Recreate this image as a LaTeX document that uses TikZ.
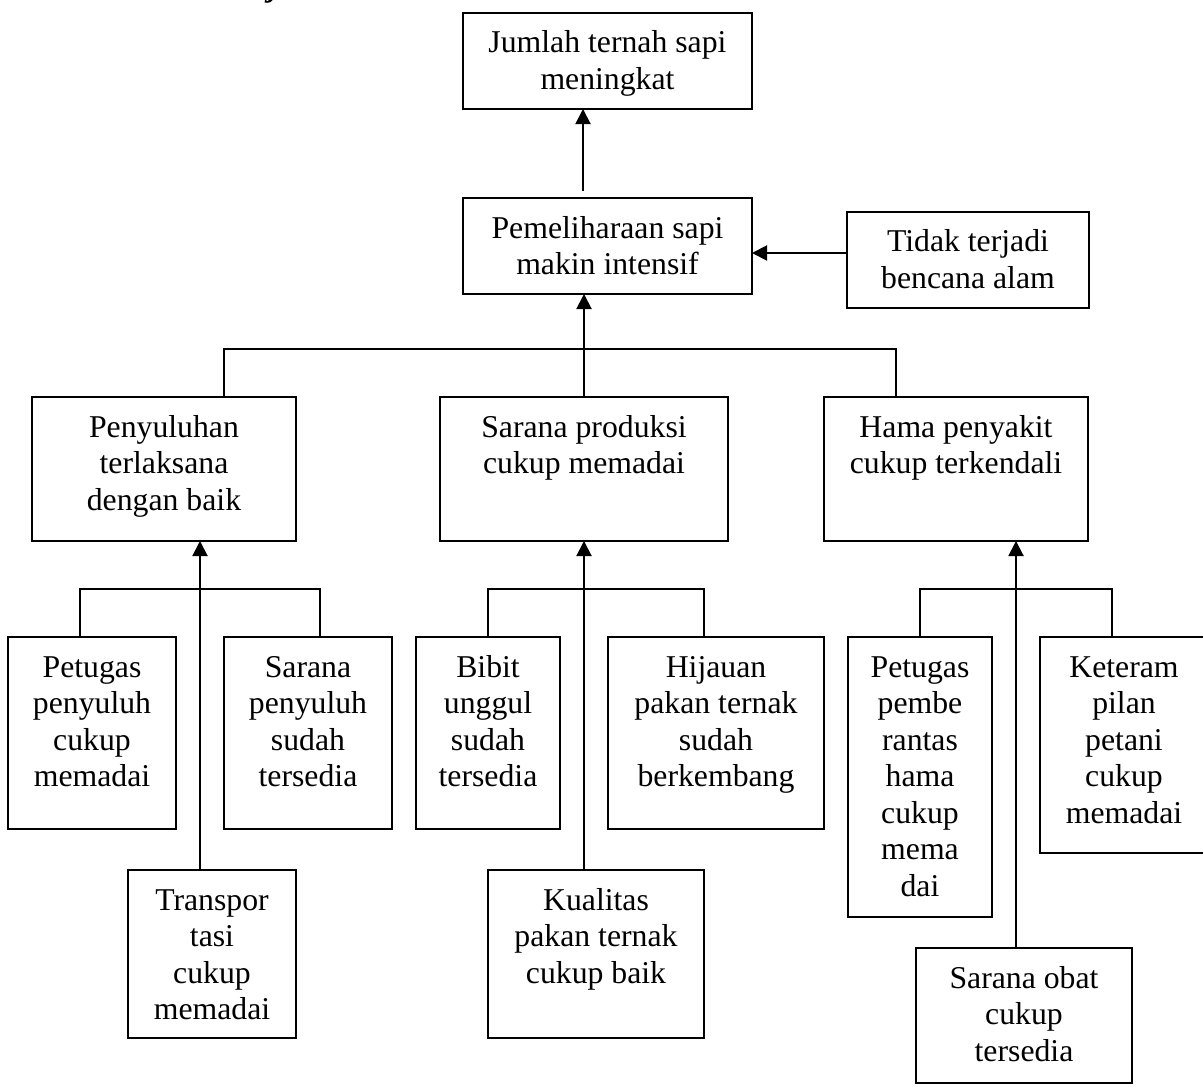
\documentclass[tikz,border=0pt]{standalone}
\usepackage{fontspec}
\setmainfont{Liberation Serif}
\usetikzlibrary{arrows.meta}

% one drawing unit (a pixel of the layout grid)
\newdimen\pxu \pxu=0.378pt
% box content: fixed width and height, text starting from the top
\newcommand\boxtext[3]{\parbox[c][#2\pxu][t]{#1\pxu}{\centering\rule{0pt}{40\pxu}#3\par}}

\begin{document}
\begin{tikzpicture}[
  x=0.378pt, y=-0.378pt, line width=0.75pt,
  box/.style={draw, inner sep=0pt, outer sep=0pt, anchor=north west,
              font=\fontsize{12pt}{13.8pt}\selectfont},
  arr/.style={-{Triangle[length=5.7pt,width=5.7pt]}}
]
\useasboundingbox (0,0) rectangle (1203,1086);
\clip (0,0) rectangle (1203,1086);

% heading fragment above the chart
\node[anchor=base west, inner sep=0pt, font=\fontsize{12pt}{14pt}\selectfont\bfseries\itshape] (head) at (268,-3) {j};

% goal and main result
\node[box] (goal) at (463,13)  {\boxtext{289}{96}{Jumlah ternah sapi\\meningkat}};
\node[box] (pem)  at (463,198) {\boxtext{289}{96}{Pemeliharaan sapi\\makin intensif}};
\node[box] (alam) at (847,212) {\boxtext{242}{96}{Tidak terjadi\\bencana alam}};

% second level
\node[box] (peny) at (32,397)  {\boxtext{264}{144}{Penyuluhan\\terlaksana\\dengan baik}};
\node[box] (prod) at (440,397) {\boxtext{288}{144}{Sarana produksi\\cukup memadai}};
\node[box] (hama) at (824,397) {\boxtext{264}{144}{Hama penyakit\\cukup terkendali}};

% third level: extension
\node[box] (petpeny) at (8,637)   {\boxtext{168}{192}{Petugas\\penyuluh\\cukup\\memadai}};
\node[box] (sarpeny) at (224,637) {\boxtext{168}{192}{Sarana\\penyuluh\\sudah\\tersedia}};
\node[box] (transp)  at (128,870) {\boxtext{168}{168}{Transpor\\tasi\\cukup\\memadai}};

% third level: production means
\node[box] (bibit) at (416,637) {\boxtext{144}{192}{Bibit\\unggul\\sudah\\tersedia}};
\node[box] (hijau) at (608,637) {\boxtext{216}{192}{Hijauan\\pakan ternak\\sudah\\berkembang}};
\node[box] (kual)  at (488,870) {\boxtext{216}{168}{Kualitas\\pakan ternak\\cukup baik}};

% third level: pest control
\node[box] (petpem) at (848,637)  {\boxtext{144}{280}{Petugas\\pembe\\rantas\\hama\\cukup\\mema\\dai}};
\node[box] (keter)  at (1040,637) {\boxtext{168}{216}{Keteram\\pilan\\petani\\cukup\\memadai}};
\node[box] (obat)   at (916,948)  {\boxtext{216}{135}{Sarana obat\\cukup\\tersedia}};

% joints of the connectors
\coordinate (up)  at (583,191);
\coordinate (jl)  at (224,349);
\coordinate (jr)  at (896,349);
\coordinate (ml)  at (584,349);
\coordinate (la)  at (80,589);
\coordinate (lc)  at (200,589);
\coordinate (lb)  at (320,589);
\coordinate (ma)  at (488,589);
\coordinate (mc)  at (584,589);
\coordinate (mb)  at (704,589);
\coordinate (ra)  at (920,589);
\coordinate (rc)  at (1016,589);
\coordinate (rb)  at (1112,589);

% upper arrows
\draw[arr] (up) -- (up |- goal.south);
\draw[arr] ([yshift=2.65pt]alam.west) -- ([yshift=2.65pt]alam.west -| pem.east);
\draw[arr] (prod.north -| ml) -- (pem.south -| ml);
\draw (peny.north -| jl) -- (jl) -- (jr) -- (hama.north -| jr);

% lower groups
\draw[arr] (transp.north -| lc) -- (peny.south -| lc);
\draw (petpeny.north -| la) -- (la) -- (lb) -- (sarpeny.north -| lb);

\draw[arr] (kual.north -| mc) -- (prod.south -| mc);
\draw (bibit.north -| ma) -- (ma) -- (mb) -- (hijau.north -| mb);

\draw[arr] (obat.north -| rc) -- (hama.south -| rc);
\draw (petpem.north -| ra) -- (ra) -- (rb) -- (keter.north -| rb);
\end{tikzpicture}
\end{document}
